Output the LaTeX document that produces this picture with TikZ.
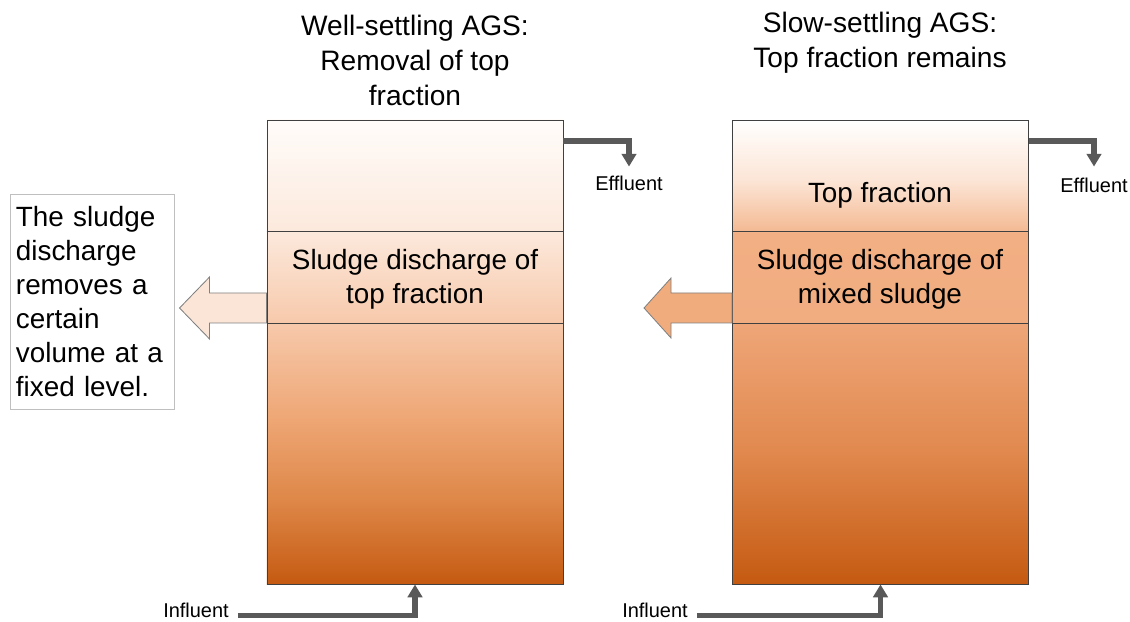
\documentclass[tikz,border=0pt]{standalone}
\usepackage{fontspec}
\setmainfont{Liberation Sans}
\usepackage{xcolor}
\usepackage{tikz}
\usetikzlibrary{arrows.meta, calc}
\definecolor{pipegray}{RGB}{89, 89, 89}
\definecolor{edgegray}{RGB}{64, 64, 64}
\definecolor{boxgray}{RGB}{191, 191, 191}
\definecolor{paleorange}{RGB}{251, 229, 214}
\definecolor{midorange}{RGB}{241, 172, 126}

% vertical shadings (tank spans 25bp..75bp)
\pgfdeclareverticalshading{wellshade}{100bp}{
    color(0bp)=(rgb,255:red,197;green,90;blue,17);
    color(25bp)=(rgb,255:red,197;green,90;blue,17);
    color(34bp)=(rgb,255:red,222;green,135;blue,72);
    color(42.7bp)=(rgb,255:red,238;green,166;blue,116);
    color(53.1bp)=(rgb,255:red,247;green,201;blue,171);
    color(63bp)=(rgb,255:red,252;green,233;blue,220);
    color(75bp)=(rgb,255:red,255;green,252;blue,250);
    color(100bp)=(rgb,255:red,255;green,252;blue,250)}
\pgfdeclareverticalshading{slowshade}{100bp}{
    color(0bp)=(rgb,255:red,197;green,90;blue,17);
    color(25bp)=(rgb,255:red,197;green,90;blue,17);
    color(39.4bp)=(rgb,255:red,225;green,137;blue,79);
    color(53.1bp)=(rgb,255:red,239;green,166;blue,120);
    color(53.2bp)=(rgb,255:red,241;green,173;blue,128);
    color(62.9bp)=(rgb,255:red,242;green,175;blue,131);
    color(63bp)=(rgb,255:red,244;green,186;blue,147);
    color(68.5bp)=(rgb,255:red,252;green,229;blue,214);
    color(75bp)=(rgb,255:red,255;green,255;blue,255);
    color(100bp)=(rgb,255:red,255;green,255;blue,255)}

\begin{document}
\begin{tikzpicture}[
        x=0.025cm, y=-0.025cm,
        tank/.style={rectangle, draw=edgegray, line width=0.6pt, minimum width=7.4cm, minimum height=11.6cm, inner sep=0pt},
        divline/.style={draw=edgegray, line width=0.6pt},
        title/.style={align=center, font=\fontsize{20}{24.9}\selectfont},
        inlabel/.style={align=center, font=\fontsize{19.8}{24.2}\selectfont},
        small/.style={font=\fontsize{14.2}{17}\selectfont, inner sep=0pt},
        pipe/.style={-{Triangle[length=0.32cm, width=0.36cm]}, line width=3.6pt, draw=pipegray},
        bigarrow/.style={draw=gray, line width=0.6pt, line join=miter},
        note/.style={rectangle, draw=boxgray, line width=0.6pt, minimum width=4.1cm, minimum height=5.375cm, text width=3.8cm, align=left, font=\fontsize{19.8}{24.2}\selectfont}
    ]
        \useasboundingbox (0,0) rectangle (1130,622);

        % Titles
        \node[title] (titleL) at (415,60) {Well-settling AGS:\\Removal of top\\fraction};
        \node[title] (titleR) at (880,43) {Slow-settling AGS:\\Top fraction remains};

        % Tanks
        \node[tank, shading=wellshade] (tankL) at (415,352) {};
        \node[tank, shading=slowshade] (tankR) at (880.5,352) {};
        \draw[divline] (tankL.west |- 0,231) -- (tankL.east |- 0,231);
        \draw[divline] (tankL.west |- 0,323) -- (tankL.east |- 0,323);
        \draw[divline] (tankR.west |- 0,231) -- (tankR.east |- 0,231);
        \draw[divline] (tankR.west |- 0,323) -- (tankR.east |- 0,323);

        % Section texts
        \node[inlabel] (secL) at (415,279) {Sludge discharge of\\top fraction};
        \node[inlabel] (topR) at (880,195) {Top fraction};
        \node[inlabel] (secR) at (880,279) {Sludge discharge of\\mixed sludge};

        % Discharge arrows
        \coordinate (outL) at ($(tankL.west)+(0,-59)$);
        \draw[bigarrow, fill=paleorange] (outL) -- ++(-57,0) -- ++(0,-16) -- ++(-30,31) -- ++(30,31) -- ++(0,-16) -- ++(57,0) -- cycle;
        \coordinate (outR) at ($(tankR.west)+(0,-59)$);
        \draw[bigarrow, fill=midorange] (outR) -- ++(-61,0) -- ++(0,-15) -- ++(-27,30) -- ++(27,30) -- ++(0,-15) -- ++(61,0) -- cycle;

        % Note box
        \node[note] (note) at (92,301.5) {The sludge\\discharge\\removes a\\certain\\volume at a\\fixed level.};

        % Effluent
        \node[small] (effL) at (629,183) {Effluent};
        \node[small] (effR) at (1094,185) {Effluent};
        \draw[pipe] (tankL.east |- 0,141) -| ([yshift=0.22cm]effL.north);
        \draw[pipe] (tankR.east |- 0,141) -| ([yshift=0.27cm]effR.north);

        % Influent
        \node[small] (inL) at (196,610) {Influent};
        \node[small] (inR) at (655,610) {Influent};
        \draw[pipe] ([xshift=0.22cm, yshift=-0.14cm]inL.east) -| (tankL.south);
        \draw[pipe] ([xshift=0.22cm, yshift=-0.14cm]inR.east) -| (tankR.south);
    \end{tikzpicture}
\end{document}
